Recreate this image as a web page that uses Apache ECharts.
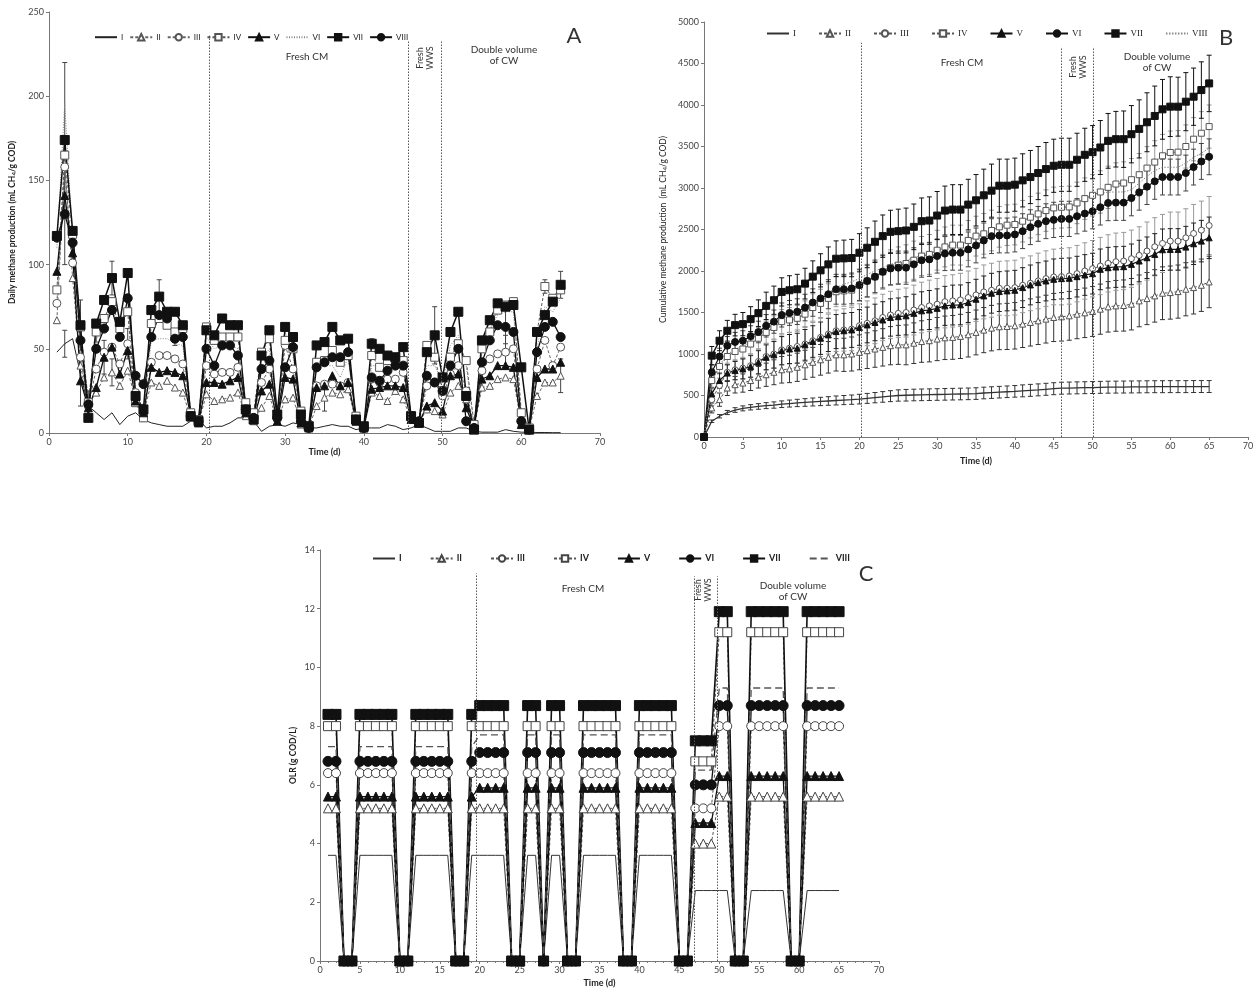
<!DOCTYPE html>
<html>
<head>
<meta charset="utf-8">
<script src="https://cdn.jsdelivr.net/npm/echarts@6/dist/echarts.min.js"></script>
<style>
html,body{margin:0;padding:0;background:#fff}
#main{width:1260px;height:989px}
</style>
</head>
<body>
<div id="main"></div>
<script>
// series names, same in the three panels
var names = ['I','II','III','IV','V','VI','VII','VIII'];

// ---- A: daily methane production, days 1..65
var aI    = [48,53,56,35,16,12,8,12,5,10, 12,8,6,5,4,4,4,7,8,3, 4,4,6,9,9,7,1,4,5,4, 6,5,3,3,4,5,4,4,2,3, 3,3,5,4,2,3,5,3,1,1, 1,3,3,1,0.5,0.5,0.5,2,1,0.5, 0.5,0.3,0.3,0.2,0.2];
var aII   = [67,160,92,40,17,24,33,36,28,37, 20,11,30,28,31,27,24,9,6,23, 19,20,21,24,10,7,15,22,7,20, 21,5,3,16,21,24,23,26,7,3, 24,22,19,25,20,8,6,14,13,11, 24,28,20,3,27,28,32,33,32,6, 2,22,30,30,34];
var aIII  = [77,158,101,45,16,38,48,51,41,53, 24,11,42,46,46,44,41,10,7,40, 35,36,36,39,12,8,30,38,8,52, 38,7,3,28,29,29,28,30,8,3, 32,30,32,32,36,9,6,28,30,22, 35,40,25,4,37,44,47,48,50,7, 2,38,55,40,51];
var aIV   = [85,165,118,63,18,60,68,78,62,72, 18,9,65,68,64,60,62,12,8,63, 55,57,57,57,18,12,48,56,11,55, 50,13,4,42,43,49,42,46,10,3, 46,39,43,44,43,10,6,52,45,25, 45,53,43,5,50,60,73,76,78,12, 3,60,87,80,85];
var aV    = [96,141,107,31,15,27,45,51,35,49, 19,12,39,36,37,36,34,10,6,30, 30,29,31,33,12,8,25,29,7,33, 32,6,3,27,28,34,28,30,7,3, 26,27,28,28,27,8,6,16,18,13, 34,35,15,3,32,34,40,40,39,5, 2,33,38,38,42];
var aVI   = [110,196,115,60,20,55,65,75,58,75, 25,13,55,56,56,53,52,10,7,57, 50,52,52,50,14,10,43,50,9,60, 46,8,3,40,40,40,33,45,8,3, 40,40,43,40,42,10,6,40,40,30, 52,58,40,4,48,62,70,72,72,10, 3,50,75,72,80];
var aVII  = [117,174,120,64,9,65,79,92,66,95, 22,14,73,81,72,72,64,10,7,61, 58,68,64,64,14,8,46,61,11,63, 57,11,4,52,54,63,55,56,8,4, 53,50,46,45,51,10,6,48,58,33, 60,72,22,2,55,67,77,75,76,39, 2,60,70,78,88];
var aVIII = [116,130,113,55,17,50,62,73,57,80, 34,29,57,70,68,56,57,10,7,50, 40,52,52,46,14,9,38,43,9,39, 51,7,3,39,42,45,45,48,8,3, 33,31,37,40,40,10,7,34,30,25, 40,50,7,3,42,55,64,63,60,7, 2,48,63,66,57];
// A: the error bars that show
var aErrName = ['VII','VIII','I','VII','VII','V','II','III','VII','V','II','IV','VIII','VII','VII','II','III','VIII','VII','IV','V','II'];
var aErrDay  = [2,2,2,8,14,7,8,10,4,4,5,6,16,49,65,65,58,58,41,63,12,35];
var aErrSd   = [46,30,8,10,10,10,8,9,15,15,8,6,4,17,8,10,10,10,3,4,5,8];

// ---- B: cumulative methane production, days 0..65
var bI    = [0, 190,250,295,325,345,358,368,378,385,395, 403,410,416,422,428,434,440,445,450,456, 465,474,483,492,500,503,506,508,510,512, 514,516,518,520,523,530,535,540,545,550, 556,562,568,575,582,588,590,592,594,596, 598,600,601,602,603,604,605,606,606,607, 607,607,608,608,608];
var bII   = [0, 350,450,590,630,650,680,720,750,780,810, 820,840,870,900,930,960,990,990,1000,1020, 1040,1060,1080,1100,1110,1110,1130,1150,1160,1180, 1195,1200,1212,1232,1260,1288,1312,1328,1332,1340, 1360,1380,1400,1420,1440,1448,1460,1480,1496,1512, 1540,1568,1580,1584,1600,1640,1668,1700,1732,1740, 1752,1780,1800,1828,1868];
var bIII  = [0, 450,620,780,810,830,860,910,970,1000,1050, 1070,1090,1120,1160,1200,1240,1280,1290,1300,1340, 1370,1400,1440,1470,1490,1500,1530,1560,1580,1600, 1630,1640,1652,1680,1712,1748,1768,1792,1792,1800, 1828,1852,1880,1908,1928,1932,1940,1968,2000,2028, 2060,2092,2112,2120,2148,2188,2240,2292,2332,2360, 2360,2400,2452,2492,2548];
var bIV   = [0, 680,850,970,1030,1060,1120,1190,1260,1320,1390, 1410,1430,1480,1560,1610,1670,1750,1760,1770,1830, 1880,1930,1990,2040,2070,2090,2130,2180,2200,2250, 2290,2312,2312,2368,2420,2448,2488,2532,2552,2560, 2600,2648,2688,2728,2760,2768,2772,2820,2872,2912, 2952,3008,3048,3060,3100,3160,3240,3312,3388,3428, 3432,3500,3588,3660,3740];
var bV    = [0, 520,680,770,800,820,850,900,960,990,1040, 1060,1070,1110,1150,1190,1230,1270,1280,1290,1320, 1350,1380,1410,1440,1450,1460,1490,1520,1530,1550, 1580,1590,1592,1620,1660,1700,1732,1752,1760,1768, 1800,1832,1860,1880,1900,1908,1912,1932,1952,1968, 2020,2040,2048,2052,2080,2120,2160,2200,2256,2260, 2260,2288,2328,2360,2400];
var bVI   = [0, 780,970,1100,1145,1160,1215,1265,1340,1390,1470, 1495,1510,1560,1620,1670,1720,1780,1780,1790,1830, 1880,1930,1990,2030,2040,2040,2080,2130,2140,2180, 2210,2220,2220,2260,2308,2368,2420,2428,2428,2440, 2480,2528,2568,2600,2616,2628,2628,2660,2692,2720, 2768,2820,2824,2824,2880,2948,3016,3080,3132,3132, 3132,3180,3252,3320,3376];
var bVII  = [0, 980,1160,1280,1348,1360,1420,1492,1580,1648,1748, 1768,1780,1848,1932,2008,2080,2148,2152,2156,2220, 2280,2352,2420,2472,2480,2488,2532,2600,2608,2668, 2728,2740,2740,2800,2852,2912,2968,3028,3028,3040, 3092,3132,3180,3228,3268,3280,3280,3340,3400,3432, 3488,3568,3588,3588,3648,3712,3792,3868,3948,3980, 3980,4040,4100,4180,4260];
var bVIII = [0, 650,870,990,1060,1090,1150,1230,1300,1360,1430, 1460,1490,1540,1610,1680,1740,1800,1840,1870,1910, 1960,2000,2040,2080,2110,2130,2160,2190,2210,2240, 2280,2300,2320,2360,2410,2440,2480,2520,2545,2555, 2595,2640,2680,2720,2755,2765,2770,2815,2865,2905, 2935,2950,2952,2952,2980,3060,3140,3210,3250,3250, 3250,3300,3370,3420,3480];
// B: standard deviations
var eI   = [0, 15,20,25,28,30,32,34,36,38,40, 42,44,46,48,50,52,54,55,56,58, 60,62,64,66,68,70,70,70,70,70, 70,70,70,70,70,70,70,70,70,70, 72,72,72,72,72,72,72,72,72,72, 72,72,72,72,72,72,72,72,72,72, 72,72,72,72,72];
var eII  = [0, 60,80,90,100,110,120,130,140,150,160, 165,170,175,180,185,190,195,200,205,210, 215,220,225,230,235,240,245,250,255,260, 262,264,266,268,270,272,274,276,278,280, 282,284,286,288,290,292,294,296,298,300, 302,304,306,308,310,312,314,316,318,320, 320,320,318,315,310];
var eIII = [0, 70,90,110,120,130,140,150,160,170,180, 190,200,210,220,230,240,250,255,260,265, 270,275,280,285,290,295,300,305,310,310, 315,315,320,320,320,325,325,325,330,330, 330,330,335,335,335,340,340,340,340,340, 345,345,345,345,345,345,350,350,350,350, 350,350,350,350,350];
var eIV  = [0, 80,90,100,110,115,120,130,135,140,145, 150,155,160,165,170,175,180,185,190,195, 200,205,210,215,220,225,230,235,240,240, 240,240,240,240,240,245,245,245,245,245, 250,250,250,250,250,250,250,250,250,250, 255,255,255,255,255,255,258,258,258,258, 260,260,260,260,260];
var eV   = [0, 70,90,100,110,120,130,140,150,160,170, 175,180,185,190,195,200,205,210,210,215, 215,220,220,225,225,230,230,230,235,235, 235,240,240,240,240,240,240,240,240,240, 240,240,240,240,245,245,245,245,245,245, 245,245,245,245,245,250,250,250,250,250, 250,250,250,250,250];
var eVI  = [0, 90,100,110,115,120,125,130,135,140,145, 150,155,160,165,170,175,180,180,185,185, 190,190,195,195,200,200,200,205,205,205, 205,210,210,210,210,210,210,210,210,210, 210,210,210,210,212,212,212,212,212,212, 214,214,214,214,215,215,215,216,216,216, 216,216,216,216,216];
var eVII = [0, 110,120,125,130,140,150,160,165,170,170, 175,180,185,190,200,210,215,220,225,230, 240,250,255,260,265,270,275,280,285,290, 295,300,300,305,310,315,320,320,320,320, 320,320,320,320,320,320,320,320,320,320, 325,330,335,340,345,350,355,360,360,360, 355,350,345,340,340];

// ---- C: organic loading rate, days 1..65
var cI    = [3.6,3.6,0,0,3.6,3.6,3.6,3.6,3.6,0, 0,3.6,3.6,3.6,3.6,3.6,0,0,3.6,3.6, 3.6,3.6,3.6,0,0,3.6,3.6,0,3.6,3.6, 0,0,3.6,3.6,3.6,3.6,3.6,0,0,3.6, 3.6,3.6,3.6,3.6,0,0,2.4,2.4,2.4,2.4, 2.4,0,0,2.4,2.4,2.4,2.4,2.4,0,0, 2.4,2.4,2.4,2.4,2.4];
var cII   = [5.2,5.2,0,0,5.2,5.2,5.2,5.2,5.2,0, 0,5.2,5.2,5.2,5.2,5.2,0,0,5.2,5.2, 5.2,5.2,5.2,0,0,5.2,5.2,0,5.2,5.2, 0,0,5.2,5.2,5.2,5.2,5.2,0,0,5.2, 5.2,5.2,5.2,5.2,0,0,4.0,4.0,4.0,5.6, 5.6,0,0,5.6,5.6,5.6,5.6,5.6,0,0, 5.6,5.6,5.6,5.6,5.6];
var cIII  = [6.4,6.4,0,0,6.4,6.4,6.4,6.4,6.4,0, 0,6.4,6.4,6.4,6.4,6.4,0,0,6.4,6.4, 6.4,6.4,6.4,0,0,6.4,6.4,0,6.4,6.4, 0,0,6.4,6.4,6.4,6.4,6.4,0,0,6.4, 6.4,6.4,6.4,6.4,0,0,5.2,5.2,5.2,8.0, 8.0,0,0,8.0,8.0,8.0,8.0,8.0,0,0, 8.0,8.0,8.0,8.0,8.0];
var cIV   = [8.0,8.0,0,0,8.0,8.0,8.0,8.0,8.0,0, 0,8.0,8.0,8.0,8.0,8.0,0,0,8.0,8.0, 8.0,8.0,8.0,0,0,8.0,8.0,0,8.0,8.0, 0,0,8.0,8.0,8.0,8.0,8.0,0,0,8.0, 8.0,8.0,8.0,8.0,0,0,6.8,6.8,6.8,11.2, 11.2,0,0,11.2,11.2,11.2,11.2,11.2,0,0, 11.2,11.2,11.2,11.2,11.2];
var cV    = [5.6,5.6,0,0,5.6,5.6,5.6,5.6,5.6,0, 0,5.6,5.6,5.6,5.6,5.6,0,0,5.6,5.9, 5.9,5.9,5.9,0,0,5.9,5.9,0,5.9,5.9, 0,0,5.9,5.9,5.9,5.9,5.9,0,0,5.9, 5.9,5.9,5.9,5.9,0,0,4.7,4.7,4.7,6.3, 6.3,0,0,6.3,6.3,6.3,6.3,6.3,0,0, 6.3,6.3,6.3,6.3,6.3];
var cVI   = [6.8,6.8,0,0,6.8,6.8,6.8,6.8,6.8,0, 0,6.8,6.8,6.8,6.8,6.8,0,0,6.8,7.1, 7.1,7.1,7.1,0,0,7.1,7.1,0,7.1,7.1, 0,0,7.1,7.1,7.1,7.1,7.1,0,0,7.1, 7.1,7.1,7.1,7.1,0,0,6.0,6.0,6.0,8.7, 8.7,0,0,8.7,8.7,8.7,8.7,8.7,0,0, 8.7,8.7,8.7,8.7,8.7];
var cVII  = [8.4,8.4,0,0,8.4,8.4,8.4,8.4,8.4,0, 0,8.4,8.4,8.4,8.4,8.4,0,0,8.4,8.7, 8.7,8.7,8.7,0,0,8.7,8.7,0,8.7,8.7, 0,0,8.7,8.7,8.7,8.7,8.7,0,0,8.7, 8.7,8.7,8.7,8.7,0,0,7.5,7.5,7.5,11.9, 11.9,0,0,11.9,11.9,11.9,11.9,11.9,0,0, 11.9,11.9,11.9,11.9,11.9];
var cVIII = [7.3,7.3,0,0,7.3,7.3,7.3,7.3,7.3,0, 0,7.3,7.3,7.3,7.3,7.3,0,0,7.3,7.7, 7.7,7.7,7.7,0,0,7.7,7.7,0,7.7,7.7, 0,0,7.7,7.7,7.7,7.7,7.7,0,0,7.7, 7.7,7.7,7.7,7.7,0,0,6.5,6.5,6.5,9.3, 9.3,0,0,9.3,9.3,9.3,9.3,9.3,0,0, 9.3,9.3,9.3,9.3,9.3];

// phase boundaries (day) and the tops of the dotted lines
var aMarks = [[20.3, 236], [45.6, 233], [49.8, 233]];
var bMarks = [[20.2, 4750], [46, 4700], [50.1, 4700]];
var cMarks = [[19.6, 13.2], [46.9, 13.1], [49.8, 13.1]];

var dayA = [], dayB = [];
for (var d = 1; d <= 65; d++) dayA.push(d);
for (d = 0; d <= 65; d++) dayB.push(d);

var SANS = 'Lato, "Open Sans", sans-serif';
var SERIF = '"Liberation Serif", serif';

// line/marker look of each series, per panel
var styA = {
  I:    {sym:'none', lc:'#222', lw:1, dash:'solid'},
  II:   {sym:'triangle', size:7, fill:'#fff', bc:'#555', lc:'#666', lw:1, dash:[3,2]},
  III:  {sym:'circle', size:8, fill:'#fff', bc:'#555', lc:'#666', lw:1, dash:[3,2]},
  IV:   {sym:'rect', size:8, fill:'#fff', bc:'#555', lc:'#555', lw:1, dash:[3,2]},
  V:    {sym:'triangle', size:8, fill:'#111', bc:'#111', lc:'#111', lw:1.3, dash:'solid'},
  VI:   {sym:'none', lc:'#888', lw:1, dash:[1,1.5]},
  VII:  {sym:'rect', size:9, fill:'#111', bc:'#111', lc:'#111', lw:1.5, dash:'solid'},
  VIII: {sym:'circle', size:9, fill:'#111', bc:'#111', lc:'#111', lw:1.3, dash:'solid'}
};
var styB = {
  I:    {sym:'none', lc:'#333', lw:1.3, dash:'solid'},
  II:   {sym:'triangle', size:6, fill:'#fff', bc:'#555', lc:'#555', lw:1, dash:[3,2]},
  III:  {sym:'circle', size:6, fill:'#fff', bc:'#555', lc:'#555', lw:1, dash:[3,2]},
  IV:   {sym:'rect', size:6, fill:'#fff', bc:'#555', lc:'#555', lw:1, dash:[3,2]},
  V:    {sym:'triangle', size:6, fill:'#111', bc:'#111', lc:'#111', lw:1.2, dash:'solid'},
  VI:   {sym:'circle', size:7, fill:'#111', bc:'#111', lc:'#111', lw:1.2, dash:'solid'},
  VII:  {sym:'rect', size:7, fill:'#111', bc:'#111', lc:'#111', lw:1.4, dash:'solid'},
  VIII: {sym:'none', lc:'#888', lw:1, dash:[1.5,1.5]}
};
var styC = {
  I:    {sym:'none', lc:'#333', lw:1, dash:'solid'},
  II:   {sym:'triangle', size:9, fill:'#fff', bc:'#444', lc:'#555', lw:1, dash:[3,2]},
  III:  {sym:'circle', size:9, fill:'#fff', bc:'#444', lc:'#555', lw:1, dash:[3,2]},
  IV:   {sym:'rect', size:9, fill:'#fff', bc:'#444', lc:'#555', lw:1, dash:[3,2]},
  V:    {sym:'triangle', size:9, fill:'#111', bc:'#111', lc:'#111', lw:1.3, dash:'solid'},
  VI:   {sym:'circle', size:10, fill:'#111', bc:'#111', lc:'#111', lw:1.3, dash:'solid'},
  VII:  {sym:'rect', size:10, fill:'#111', bc:'#111', lc:'#111', lw:1.6, dash:'solid'},
  VIII: {sym:'none', lc:'#555', lw:1.3, dash:[7,4]}
};

function lineSeries(p, tag, name, xs, ys, s) {
  var plain = s.sym === 'none';
  return {
    name: tag + ' ' + name, type: 'line', xAxisIndex: p, yAxisIndex: p,
    data: xs.map(function (x, i) { return [x, ys[i]]; }),
    // no-marker lines keep an invisible circle so the legend shows only the line
    symbol: plain ? 'circle' : s.sym, symbolSize: s.size || 0, showSymbol: !plain,
    lineStyle: {color: s.lc, width: s.lw, type: s.dash},
    itemStyle: plain ? {color: 'rgba(0,0,0,0)', borderColor: 'rgba(0,0,0,0)', borderWidth: 0}
                     : {color: s.fill, borderColor: s.bc, borderWidth: 1},
    emphasis: {disabled: true}, animation: false, z: 3
  };
}

function errSeries(p, pts, color, cap) {
  return {
    type: 'custom', xAxisIndex: p, yAxisIndex: p, silent: true, animation: false, z: 2,
    encode: {x: 0, y: [1, 2]},
    data: pts,
    renderItem: function (params, api) {
      var x = api.value(0);
      var lo = api.coord([x, api.value(1)]), hi = api.coord([x, api.value(2)]);
      var st = {stroke: color, lineWidth: 1};
      return {type: 'group', children: [
        {type: 'line', shape: {x1: hi[0], y1: hi[1], x2: lo[0], y2: lo[1]}, style: st},
        {type: 'line', shape: {x1: hi[0] - cap, y1: hi[1], x2: hi[0] + cap, y2: hi[1]}, style: st},
        {type: 'line', shape: {x1: lo[0] - cap, y1: lo[1], x2: lo[0] + cap, y2: lo[1]}, style: st}
      ]};
    }
  };
}

function marks(p, list) {
  return {
    type: 'line', xAxisIndex: p, yAxisIndex: p, data: [], silent: true,
    markLine: {
      symbol: ['none', 'none'], silent: true, animation: false, label: {show: false},
      lineStyle: {color: '#555', width: 1, type: [1.5, 1.5]},
      data: list.map(function (m) { return [{coord: [m[0], 0]}, {coord: [m[0], m[1]]}]; })
    }
  };
}

var aData = {I:aI, II:aII, III:aIII, IV:aIV, V:aV, VI:aVI, VII:aVII, VIII:aVIII};
var bData = {I:bI, II:bII, III:bIII, IV:bIV, V:bV, VI:bVI, VII:bVII, VIII:bVIII};
var cData = {I:cI, II:cII, III:cIII, IV:cIV, V:cV, VI:cVI, VII:cVII, VIII:cVIII};
var bErr  = {I:eI, II:eII, III:eIII, IV:eIV, V:eV, VI:eVI, VII:eVII};
var bErrColor = {I:'#333', II:'#333', III:'#999', IV:'#999', V:'#222', VI:'#444', VII:'#111'};

var series = [];
// A error bars
var aPts = aErrName.map(function (n, i) {
  var v = aData[n][aErrDay[i] - 1];
  return [aErrDay[i], Math.max(0, v - aErrSd[i]), v + aErrSd[i]];
});
series.push(errSeries(0, aPts, '#444', 2.5));
// B error bars
names.forEach(function (n) {
  if (!bErr[n]) return;
  var pts = [];
  dayB.forEach(function (x, i) { if (bErr[n][i] > 0) pts.push([x, bData[n][i] - bErr[n][i], bData[n][i] + bErr[n][i]]); });
  series.push(errSeries(1, pts, bErrColor[n], 2.5));
});
names.forEach(function (n) {
  series.push(lineSeries(0, 'A', n, dayA, aData[n], styA[n]));
  series.push(lineSeries(1, 'B', n, dayB, bData[n], styB[n]));
  series.push(lineSeries(2, 'C', n, dayA, cData[n], styC[n]));
});
series.push(marks(0, aMarks), marks(1, bMarks), marks(2, cMarks));

function legend(tag, left, top, gap, font, weight, size) {
  return {
    data: names.map(function (n) { return tag + ' ' + n; }),
    left: left, top: top, itemGap: gap, itemWidth: 22, itemHeight: 8,
    formatter: function (n) { return n.slice(2); },
    textStyle: {fontFamily: font, fontSize: size, fontWeight: weight, color: '#222', padding: [0, 0, 0, -1]},
    selectedMode: false
  };
}

function xAxis(p, interval, nameGap, minor) {
  return {
    type: 'value', gridIndex: p, min: 0, max: 70, interval: interval,
    name: 'Time (d)', nameLocation: 'middle', nameGap: nameGap,
    nameTextStyle: {fontFamily: SANS, fontSize: 9, fontWeight: 'bold', color: '#222'},
    axisLine: {lineStyle: {color: '#777'}}, axisTick: {length: 3, lineStyle: {color: '#777'}},
    minorTick: {show: !!minor, splitNumber: 5, length: 2, lineStyle: {color: '#777'}},
    axisLabel: {fontFamily: SANS, fontSize: 9, color: '#444', margin: 5},
    splitLine: {show: false}
  };
}

function yAxis(p, max, interval, name, nameGap, weight) {
  return {
    type: 'value', gridIndex: p, min: 0, max: max, interval: interval,
    name: name, nameLocation: 'middle', nameGap: nameGap,
    nameTextStyle: {fontFamily: SANS, fontSize: 8.5, fontWeight: weight, color: '#222',
      rich: {sub: {fontSize: 6, fontWeight: weight, verticalAlign: 'bottom', padding: [3, 0, 0, 0]}}},
    axisLine: {show: true, lineStyle: {color: '#777'}}, axisTick: {show: true, length: 3, lineStyle: {color: '#777'}},
    axisLabel: {fontFamily: SANS, fontSize: 9, color: '#444', margin: 5,
      formatter: function (v) { return String(v); }},
    splitLine: {show: false}
  };
}

function txt(x, y, s, size, rot) {
  return {type: 'text', x: x, y: y, rotation: rot || 0, silent: true,
    style: {text: s, fontFamily: SANS, fontSize: size, fill: '#333', align: 'center', verticalAlign: 'middle', lineHeight: size + 1}};
}

var option = {
  backgroundColor: '#fff',
  animation: false,
  grid: [
    {left: 49, top: 12, width: 551, height: 421},
    {left: 704, top: 22, width: 544, height: 415},
    {left: 320, top: 550, width: 559, height: 411}
  ],
  xAxis: [xAxis(0, 10, 13), xAxis(1, 5, 20), xAxis(2, 5, 18, true)],
  yAxis: [
    yAxis(0, 250, 50, 'Daily methane production (mL CH{sub|4}/g COD)', 32, 'bold'),
    yAxis(1, 5000, 500, 'Cumulative methane production  (mL CH{sub|4}/g COD)', 36, 'normal'),
    yAxis(2, 14, 2, 'OLR (g COD/L)', 22, 'bold')
  ],
  legend: [
    legend('A', 89, 28, 6, SANS, 'normal', 8),
    legend('B', 761, 24, 22, SERIF, 'normal', 9),
    legend('C', 367, 549, 28, SANS, 'bold', 9)
  ],
  graphic: [
    txt(307, 57, 'Fresh CM', 10), txt(425, 58, 'Fresh\nWWS', 9, Math.PI / 2),
    txt(504, 55, 'Double volume\nof CW', 10), txt(574, 36, 'A', 22),
    txt(962, 63, 'Fresh CM', 10), txt(1078, 67, 'Fresh\nWWS', 9, Math.PI / 2),
    txt(1157, 62, 'Double volume\nof CW', 10), txt(1226, 38, 'B', 22),
    txt(583, 589, 'Fresh CM', 10), txt(703, 590, 'Fresh\nWWS', 9, Math.PI / 2),
    txt(793, 591, 'Double volume\nof CW', 10), txt(866, 574, 'C', 22)
  ],
  series: series
};

var chart = echarts.init(document.getElementById('main'), null, {renderer: 'canvas'});
chart.setOption(option);
</script>
</body>
</html>
